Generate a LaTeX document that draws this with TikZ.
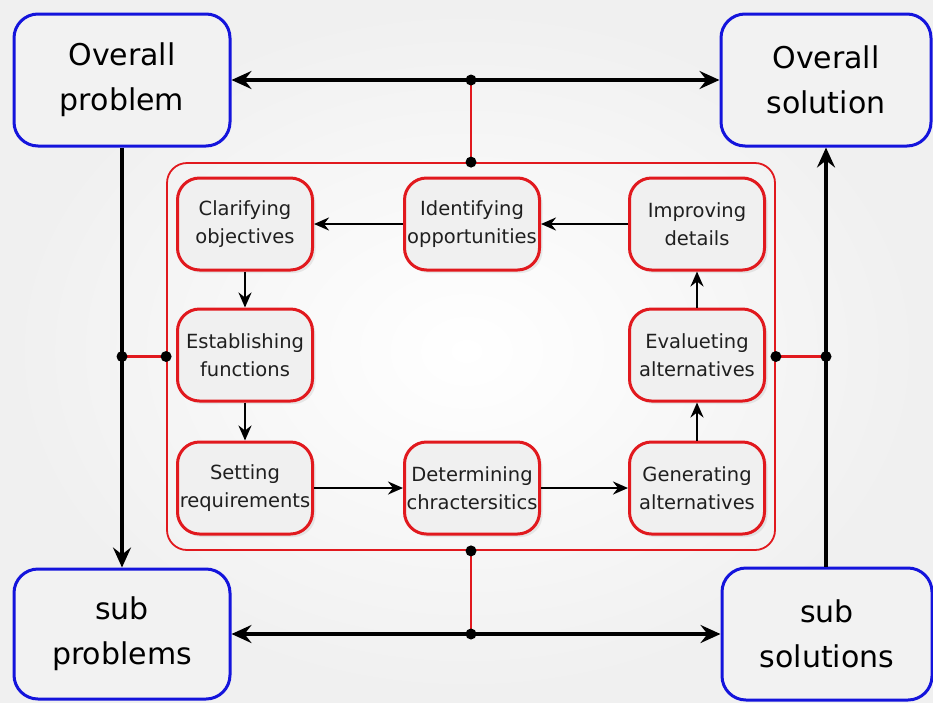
\documentclass[tikz,border=0pt]{standalone}
\usepackage{fontspec}
\setmainfont{DejaVu Sans}
\usetikzlibrary{arrows.meta,shadows}
\definecolor{bblue}{RGB}{20,20,220}
\definecolor{rred}{RGB}{225,25,30}
\tikzset{
  bigbox/.style={draw=bblue, line width=3pt, fill=gray!10, rounded corners=24pt,
    align=center, font=\fontsize{30}{45}\selectfont, text=black, inner sep=0pt},
  stepbox/.style={draw=rred, line width=3pt, fill=gray!12, rounded corners=22pt,
    minimum width=135pt, minimum height=92pt, align=center, inner sep=0pt,
    font=\fontsize{19.5}{28}\selectfont, text=black!88,
    drop shadow={opacity=0.15, shadow xshift=3pt, shadow yshift=-3pt}},
  bigarrow/.style={line width=3.6pt, black, -{Stealth[length=20pt,width=18pt,inset=7pt]}},
  smallarrow/.style={line width=2.8pt, black, -{Stealth[length=15pt,width=13pt,inset=5pt]}},
  redline/.style={line width=2.6pt, rred},
  dot/.style={circle, fill=black, inner sep=0pt, minimum size=11pt},
}
\begin{document}
\begin{tikzpicture}[x=1pt,y=-1pt]
\useasboundingbox (0,0) rectangle (933,702);
\shade[inner color=white, outer color=gray!12] (0,0) rectangle (933,702);

% corner boxes
\node[bigbox, minimum width=216pt, minimum height=132pt] (op) at (122,80) {Overall\\problem};
\node[bigbox, minimum width=210pt, minimum height=132pt] (os) at (826,80) {Overall\\solution};
\node[bigbox, minimum width=216pt, minimum height=130pt] (sp) at (122,634) {sub\\problems};
\node[bigbox, minimum width=210pt, minimum height=132pt] (ss) at (827,634) {sub\\solutions};

% frame
\node[draw=rred, line width=1.8pt, rounded corners=20pt, minimum width=608pt, minimum height=387pt, inner sep=0pt] (frame) at (471,356.5) {};

% steps
\node[stepbox] (clar) at (245,224) {Clarifying\\objectives};
\node[stepbox] (iden) at (472,224) {Identifying\\opportunities};
\node[stepbox] (impr) at (697,224) {Improving\\details};
\node[stepbox] (esta) at (245,355) {Establishing\\functions};
\node[stepbox] (eval) at (697,355) {Evalueting\\alternatives};
\node[stepbox] (sett) at (245,488) {Setting\\requirements};
\node[stepbox] (dete) at (472,488) {Determining\\chractersitics};
\node[stepbox] (gene) at (697,488) {Generating\\alternatives};

\draw[smallarrow] (iden) -- (clar);
\draw[smallarrow] (impr) -- (iden);
\draw[smallarrow] (clar) -- (esta);
\draw[smallarrow] (esta) -- (sett);
\draw[smallarrow] (sett) -- (dete);
\draw[smallarrow] (dete) -- (gene);
\draw[smallarrow] (gene) -- (eval);
\draw[smallarrow] (eval) -- (impr);

% junction coordinates
\coordinate (jt) at (frame.north |- op.east);
\coordinate (jb) at (frame.south |- sp.east);
\coordinate (jl) at (op.south |- frame.west);
\coordinate (jr) at (os.south |- frame.east);

% big arrows
\draw[bigarrow] (jt) -- (op.east);
\draw[bigarrow] (jt) -- (os.west);
\draw[bigarrow] (jb) -- (sp.east);
\draw[bigarrow] (jb) -- (ss.west);
\draw[bigarrow] (op.south) -- (sp.north);
\draw[bigarrow] (ss.north -| os.south) -- (os.south);

% red links
\draw[redline] (jt) -- (frame.north);
\draw[redline] (jb) -- (frame.south);
\draw[redline] (jl) -- (frame.west);
\draw[redline] (jr) -- (frame.east);

% dots
\foreach \p in {jt,jb,jl,jr,frame.north,frame.south,frame.west,frame.east}
  \node[dot] at (\p) {};
\end{tikzpicture}
\end{document}
